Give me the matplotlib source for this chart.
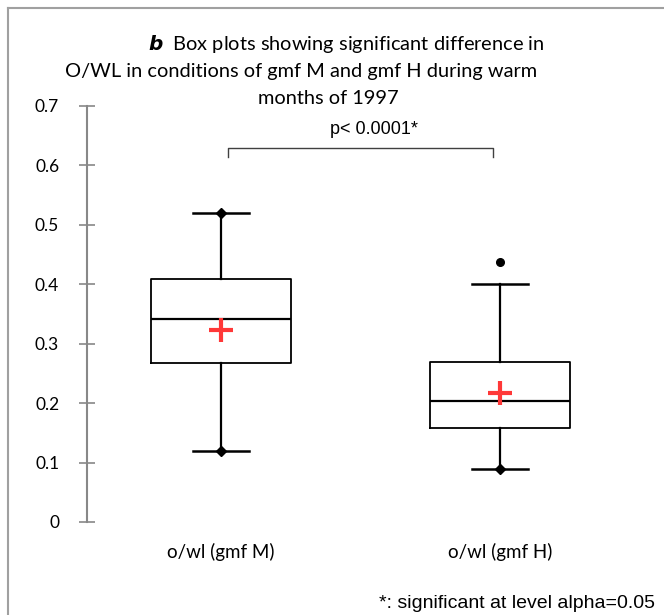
import matplotlib
matplotlib.use("Agg")
import matplotlib.pyplot as plt
from matplotlib.lines import Line2D

# box plot statistics
groups = ["o/wl (gmf M)", "o/wl (gmf H)"]
q1 = [0.268, 0.158]
medians = [0.341, 0.203]
q3 = [0.409, 0.270]
whis_lo = [0.120, 0.090]
whis_hi = [0.520, 0.401]
means = [0.323, 0.217]
mins = [0.120, 0.090]
maxs = [0.520, 0.438]
outliers = [[], [0.438]]
yticks = [0, 0.1, 0.2, 0.3, 0.4, 0.5, 0.6, 0.7]
p_text = "p< 0.0001*"
note = "*: significant at level alpha=0.05"

W, H = 664, 615
S = 279  # pixels per category unit
fig = plt.figure(figsize=(W / 100, H / 100), dpi=100)
fig.patch.set_facecolor("white")

# frame of the chart area (left and top edges visible)
fig.add_artist(Line2D([8 / W, 8 / W], [0, 1 - 8 / H], color="#a0a0a0", lw=1.5))
fig.add_artist(Line2D([8 / W, 1], [1 - 8 / H, 1 - 8 / H], color="#a0a0a0", lw=1.5))

ax = fig.add_axes([87 / W, 1 - 522 / H, (W - 87) / W, (522 - 106) / H])
ax.set_xlim(1 - 134 / S, 2 + 164 / S)
ax.set_ylim(0, 0.7)

pos = [1, 2]
stats = []
for i in range(2):
    stats.append(dict(med=medians[i], q1=q1[i], q3=q3[i], whislo=whis_lo[i],
                      whishi=whis_hi[i], mean=means[i], fliers=outliers[i]))

ax.bxp(stats, positions=pos, widths=140 / S, showmeans=True,
       boxprops=dict(color="black", lw=1.3),
       medianprops=dict(color="black", lw=1.6),
       whiskerprops=dict(color="black", lw=1.6),
       capprops=dict(color="black", lw=1.8),
       capwidths=56 / S,
       meanprops=dict(marker="+", markersize=17, markeredgewidth=3,
                      markeredgecolor="#ff3838"),
       flierprops=dict(marker="o", markersize=5.5, markerfacecolor="black",
                       markeredgecolor="black"))

# min / max markers
ax.plot(pos, mins, "D", color="black", markersize=5, ls="none")
ax.plot(pos[:1], maxs[:1], "D", color="black", markersize=5, ls="none")

# significance bracket
xl, xr = 1 + 7 / S, 1 + 272 / S
ax.plot([xl, xl, xr, xr], [0.614, 0.63, 0.63, 0.614], color="#404040", lw=1)
ax.text(1 + 153 / S, 0.646, p_text, ha="center", va="bottom",
        fontsize=13, family=["Liberation Sans", "DejaVu Sans"])

for s in ["top", "right", "bottom"]:
    ax.spines[s].set_visible(False)
ax.spines["left"].set_color("#888888")
ax.spines["left"].set_linewidth(1.5)
ax.set_yticks(yticks)
ax.set_yticklabels([f"{v:g}" for v in yticks], fontsize=12.5, family="Lato")
ax.tick_params(axis="y", direction="inout", length=12, width=1.2,
               color="#888888", pad=14)
ax.set_xticks(pos)
ax.set_xticklabels(groups, fontsize=13.5, family="Lato")
ax.tick_params(axis="x", length=0, pad=15)

# title lines
tfont = dict(fontsize=14.4, family="Lato", ha="left", va="center")
fig.text(148 / W, 1 - 44 / H, "$\\boldsymbol{b}$  Box plots showing significant difference in", **tfont)
fig.text(65 / W, 1 - 71 / H, "O/WL in conditions of gmf M and gmf H during warm", **tfont)
fig.text(258 / W, 1 - 98 / H, "months of 1997", **tfont)

fig.text(655 / W, 1 - 603 / H, note, ha="right", va="center", fontsize=14,
         family=["Liberation Sans Narrow", "Liberation Sans", "DejaVu Sans"])

fig.savefig("out.png", dpi=100, facecolor="white")
